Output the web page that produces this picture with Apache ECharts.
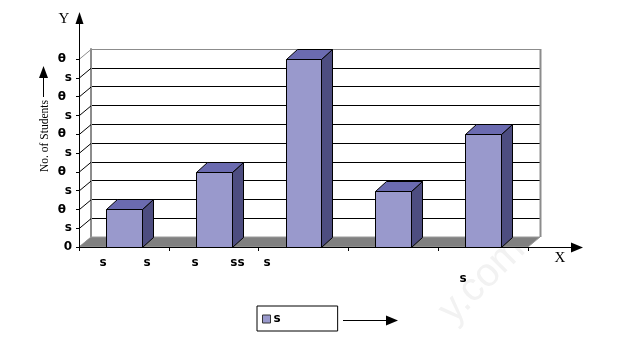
<!DOCTYPE html>
<html><head><meta charset="utf-8">
<script src="https://cdn.jsdelivr.net/npm/echarts@6/dist/echarts.min.js"></script>
<style>html,body{margin:0;padding:0;background:#fff}#c{width:642px;height:343px}</style>
</head><body><div id="c"></div>
<script>
// ---- data ----
const categories = ['1', '2', '3', '4', '5'];
const values = [2, 4, 10, 3, 6];
const yTickLabels = ['0', 's', 'θ', 's', 'θ', 's', 'θ', 's', 'θ', 's', 'θ'];
const xTickLabels = ['s', 's', 's', 'ss', 's', 's'];
const legendName = 's';
const yTitle = 'No. of Students';
const xName = 'X';
const yName = 'Y';
const watermark = 'y.com';

// ---- layout ----
const G = { left: 79, top: 59, width: 449, height: 188 };
const DX = 12, DY = -10;     // wall depth
const BDX = 11, BDY = -10;   // bar depth
const xLabelPos = [[103, 263], [147, 263], [195, 263], [237.5, 263], [267, 263], [463, 279]];
const LBL_FONT = 'DejaVu Sans';

const chart = echarts.init(document.getElementById('c'), null, { renderer: 'canvas' });

const wallLineColors = yTickLabels.map((_, i) => i === yTickLabels.length - 1 ? '#8c8c8c' : '#000');
const rich = {
  n: { fontFamily: LBL_FONT, fontWeight: 'bold', fontSize: 12, color: '#000' },
  t: { fontFamily: LBL_FONT, fontWeight: 'bold', fontSize: 12, color: '#000', padding: [0, 6, 0, 0] }
};

const x0 = G.left, yb = G.top + G.height, x1 = G.left + G.width;

const graphic = [
  // wall right edge
  { type: 'line', z: 1, shape: { x1: x1 + DX + 0.5, y1: G.top + DY, x2: x1 + DX + 0.5, y2: yb + DY }, style: { stroke: '#8c8c8c', lineWidth: 2 } },
  // Y axis with arrow
  { type: 'line', z: 100, shape: { x1: x0 + 0.5, y1: yb + 1, x2: x0 + 0.5, y2: 24 }, style: { stroke: '#000', lineWidth: 1 } },
  { type: 'polygon', z: 100, shape: { points: [[x0 + 0.5, 12], [x0 - 3.5, 24], [x0 + 4.5, 24]] }, style: { fill: '#000' } },
  { type: 'text', z: 100, x: 64, y: 19, style: { text: yName, fontFamily: 'Liberation Serif', fontSize: 15, fill: '#000', align: 'center', verticalAlign: 'middle' } },
  // X axis with arrow
  { type: 'line', z: 100, shape: { x1: x0, y1: yb + 0.5, x2: 571, y2: yb + 0.5 }, style: { stroke: '#000', lineWidth: 1 } },
  { type: 'polygon', z: 100, shape: { points: [[583, yb + 0.5], [571, yb - 4.5], [571, yb + 5.5]] }, style: { fill: '#000' } },
  { type: 'text', z: 100, x: 560, y: 258, style: { text: xName, fontFamily: 'Liberation Serif', fontSize: 15, fill: '#000', align: 'center', verticalAlign: 'middle' } },
  // Y title with arrow
  { type: 'text', z: 100, x: 45, y: 136, rotation: Math.PI / 2, style: { text: yTitle, fontFamily: 'Liberation Serif', fontSize: 11.5, fill: '#000', align: 'center', verticalAlign: 'middle' } },
  { type: 'line', z: 100, shape: { x1: 43.5, y1: 97, x2: 43.5, y2: 77 }, style: { stroke: '#000', lineWidth: 1 } },
  { type: 'polygon', z: 100, shape: { points: [[43.5, 66], [39, 78], [48, 78]] }, style: { fill: '#000' } },
  // legend arrow
  { type: 'line', z: 100, shape: { x1: 343, y1: 320.5, x2: 388, y2: 320.5 }, style: { stroke: '#000', lineWidth: 1 } },
  { type: 'polygon', z: 100, shape: { points: [[398, 320.5], [386, 315.5], [386, 325.5]] }, style: { fill: '#000' } },
  // watermark
  { type: 'text', z: 0, x: 482, y: 280, rotation: Math.PI / 4, style: { text: watermark, fontFamily: 'Liberation Sans', fontSize: 40, fill: '#f2f2f2', align: 'center', verticalAlign: 'middle' } }
];
xTickLabels.forEach((t, i) => {
  graphic.push({ type: 'text', z: 100, x: xLabelPos[i][0], y: xLabelPos[i][1], style: { text: t, fontFamily: LBL_FONT, fontWeight: 'bold', fontSize: 12, fill: '#000', align: 'center', verticalAlign: 'middle' } });
});

const option = {
  backgroundColor: '#fff',
  animation: false,
  grid: [
    { left: G.left, top: G.top, width: G.width, height: G.height },
    { left: G.left + DX, top: G.top + DY, width: G.width, height: G.height }
  ],
  xAxis: [
    { type: 'category', gridIndex: 0, data: categories, boundaryGap: true,
      axisLine: { show: false },
      axisTick: { show: true, interval: 0, length: 4, lineStyle: { color: '#000' } },
      axisLabel: { show: false } },
    { type: 'category', gridIndex: 1, data: categories, show: false }
  ],
  yAxis: [
    { type: 'value', gridIndex: 0, min: 0, max: 10, interval: 1,
      axisLine: { show: false },
      axisTick: { show: true, length: 3, lineStyle: { color: '#000' } },
      splitLine: { show: false },
      axisLabel: { margin: 7, formatter: v => { const s = yTickLabels[Math.round(v)]; return s === 'θ' ? '{t|' + s + '}' : '{n|' + s + '}'; }, rich: rich } },
    { type: 'value', gridIndex: 1, min: 0, max: 10, interval: 1,
      axisLine: { show: true, lineStyle: { color: '#8c8c8c', width: 2 } },
      axisTick: { show: false }, axisLabel: { show: false },
      splitLine: { show: true, lineStyle: { color: wallLineColors, width: 1 } } }
  ],
  legend: {
    left: 257, top: 306, selectedMode: false,
    data: [{ name: legendName, icon: 'rect', itemStyle: { borderColor: '#333', borderWidth: 1 } }],
    itemWidth: 8, itemHeight: 8, itemGap: 4,
    borderColor: '#000', borderWidth: 1, padding: [6, 57, 5, 5],
    textStyle: { fontFamily: LBL_FONT, fontWeight: 'bold', fontSize: 12, color: '#000', lineHeight: 14, padding: [0, 0, 0, -2] }
  },
  graphic: graphic,
  series: [
    { // floor
      type: 'custom', xAxisIndex: 0, yAxisIndex: 0, z: 3, silent: true,
      data: [[0, 0]],
      renderItem: (params, api) => {
        const cs = params.coordSys;
        const y = api.coord([0, 0])[1];
        return { type: 'polygon', shape: { points: [[cs.x, y], [cs.x + cs.width, y], [cs.x + cs.width + DX, y + DY], [cs.x + DX, y + DY]] }, style: { fill: '#808080', stroke: '#9a9a9a', lineWidth: 1 } };
      }
    },
    { // side wall slanted lines
      type: 'custom', xAxisIndex: 0, yAxisIndex: 0, z: 2, silent: true,
      data: yTickLabels.map((_, i) => [0, i]),
      renderItem: (params, api) => {
        const cs = params.coordSys;
        const v = api.value(1);
        const y = api.coord([0, v])[1];
        return { type: 'line', shape: { x1: cs.x, y1: y + 0.5, x2: cs.x + DX, y2: y + DY + 0.5 }, style: { stroke: v === yTickLabels.length - 1 ? '#8c8c8c' : '#000', lineWidth: 1 } };
      }
    },
    { // bars
      name: legendName, type: 'custom', xAxisIndex: 0, yAxisIndex: 0, z: 5,
      itemStyle: { color: '#9999cc' },
      data: values.map((v, i) => [i, v]),
      encode: { x: 0, y: 1 },
      renderItem: (params, api) => {
        const top = api.coord([api.value(0), api.value(1)]);
        const base = api.coord([api.value(0), 0]);
        const w = api.size([1, 0])[0] * 0.4;
        const xl = Math.round(top[0] - w / 2) + 0.5, xr = Math.round(top[0] + w / 2) + 0.5;
        const yt = Math.round(top[1]) + 0.5, yb2 = Math.round(base[1]) + 0.5;
        const st = { stroke: '#000', lineWidth: 1 };
        return { type: 'group', children: [
          { type: 'polygon', shape: { points: [[xr, yt], [xr + BDX, yt + BDY], [xr + BDX, yb2 + BDY], [xr, yb2]] }, style: Object.assign({ fill: '#4d4d80' }, st) },
          { type: 'polygon', shape: { points: [[xl, yt], [xr, yt], [xr + BDX, yt + BDY], [xl + BDX, yt + BDY]] }, style: Object.assign({ fill: '#6b6bb0' }, st) },
          { type: 'rect', shape: { x: xl, y: yt, width: xr - xl, height: yb2 - yt }, style: Object.assign({ fill: '#9999cc' }, st) }
        ] };
      }
    }
  ]
};
chart.setOption(option);
</script>
</body></html>
